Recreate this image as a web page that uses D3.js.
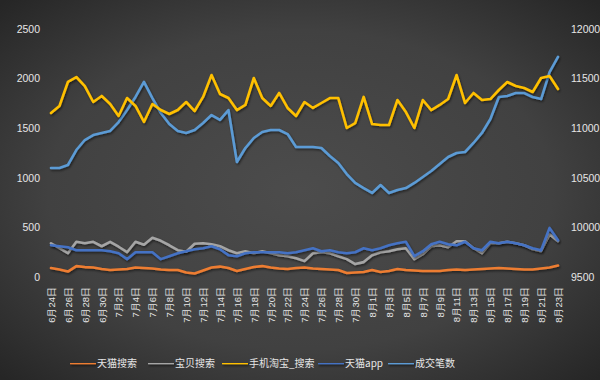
<!DOCTYPE html>
<html><head><meta charset="utf-8">
<script src="https://cdn.jsdelivr.net/npm/d3@7"></script>
<style>
html,body{margin:0;padding:0;background:#333;}
svg{display:block;font-family:"Noto Sans CJK SC","Noto Sans",sans-serif;}
</style></head>
<body>
<svg id="c" width="600" height="380"></svg>
<script>
// ---- data ----
const dates = (function(){ const a=[]; for(let d=24; d<=30; d++) a.push("6月"+d+"日"); for(let d=1; d<=31; d++) a.push("7月"+d+"日"); for(let d=1; d<=23; d++) a.push("8月"+d+"日"); return a; })();
const tmallSearch = [90,75,55,110,100,95,80,70,75,80,95,90,85,75,70,70,45,35,65,95,105,90,60,80,100,110,95,85,80,90,95,85,80,75,70,40,45,50,70,50,60,80,70,65,60,60,60,70,75,70,75,80,85,90,85,80,75,75,85,95,115];
const babySearch = [340,290,240,355,340,355,310,355,305,250,355,325,395,365,320,270,255,335,340,330,310,270,240,260,240,260,240,220,210,190,160,240,250,240,210,180,130,150,220,250,260,280,290,180,230,310,320,300,360,360,290,240,340,340,355,340,320,280,260,430,360];
const mobileSearch = [1653,1724,1966,2016,1925,1764,1825,1744,1623,1804,1724,1563,1744,1683,1643,1683,1764,1673,1815,2036,1845,1804,1683,1734,2006,1804,1724,1855,1704,1623,1764,1704,1754,1804,1804,1502,1552,1815,1542,1532,1532,1784,1663,1502,1784,1683,1734,1794,2036,1754,1855,1784,1794,1885,1966,1925,1905,1865,2006,2026,1895];
const tmallApp = [320,310,300,270,270,270,270,260,240,180,250,250,250,180,210,240,260,280,290,310,280,220,210,240,250,250,250,250,240,250,270,290,260,270,250,240,250,290,270,290,320,340,355,210,260,330,355,330,320,355,290,270,355,340,355,340,320,290,270,495,370];
const deals = [10599,10599,10629,10780,10881,10931,10952,10972,11062,11183,11315,11466,11304,11153,11042,10972,10952,10982,11052,11133,11083,11183,10659,10800,10901,10962,10982,10982,10941,10810,10810,10810,10800,10720,10649,10538,10448,10397,10347,10427,10347,10377,10397,10448,10508,10568,10639,10710,10750,10760,10851,10952,11093,11315,11325,11355,11355,11315,11294,11566,11718];
const leftTicks = [0,500,1000,1500,2000,2500];
const rightTicks = [9500,10000,10500,11000,11500,12000];
const seriesNames = ["天猫搜索","宝贝搜索","手机淘宝_搜索","天猫app","成交笔数"];
const seriesColors = ["#ED7D31","#A5A5A5","#FFC000","#4472C4","#5B9BD5"];

// ---- chart ----
const svg = d3.select("#c");
const W=600,H=380;
const defs = svg.append("defs");
const rg = defs.append("radialGradient").attr("id","bg").attr("cx","50%").attr("cy","50%").attr("r","70%");
rg.append("stop").attr("offset","0%").attr("stop-color","#4c4c4c");
rg.append("stop").attr("offset","60%").attr("stop-color","#414141");
rg.append("stop").attr("offset","100%").attr("stop-color","#262626");
const f = defs.append("filter").attr("id","sh").attr("filterUnits","userSpaceOnUse")
  .attr("x",0).attr("y",0).attr("width",W).attr("height",H);
f.append("feDropShadow").attr("dx",1).attr("dy",1.5).attr("stdDeviation",1.2).attr("flood-color","#000").attr("flood-opacity",0.55);

svg.append("rect").attr("width",W).attr("height",H).attr("fill","url(#bg)");

const x = d3.scalePoint().domain(dates).range([51,558]);
const yL = d3.scaleLinear().domain([0,2500]).range([277,29]);
const yR = d3.scaleLinear().domain([9500,12000]).range([277,29]);

// axes
const axL = svg.append("g").attr("transform","translate(40,0)")
  .call(d3.axisLeft(yL).tickValues(leftTicks).tickSize(0).tickPadding(0).tickFormat(d3.format("d")));
const axR = svg.append("g").attr("transform","translate(571,0)")
  .call(d3.axisRight(yR).tickValues(rightTicks).tickSize(0).tickPadding(0).tickFormat(d3.format("d")));
[axL,axR].forEach(a=>{ a.select(".domain").remove(); a.selectAll("text").attr("fill","#e6e6e6").style("font-size","10.5px").style("font-family","Liberation Sans, Arial, sans-serif"); });

const labelDates = dates.filter((d,i)=>i%2===0);
const axB = svg.append("g").attr("transform","translate(0,283)")
  .call(d3.axisBottom(x).tickValues(labelDates).tickSize(0).tickPadding(0));
axB.select(".domain").remove();
axB.selectAll("text").attr("fill","#e6e6e6").style("font-size","9.5px")
  .attr("text-anchor","end").attr("dy","0.35em").attr("dx","0")
  .attr("transform","translate(0,4) rotate(-90)").attr("x",0).attr("y",0);

const seriesData = [tmallSearch,babySearch,mobileSearch,tmallApp,deals];
const scales = [yL,yL,yL,yL,yR];
const order = [4,2,1,3,0];
order.forEach(k=>{
  const line = d3.line().x((d,i)=>x(dates[i])).y(d=>scales[k](d));
  svg.append("path").datum(seriesData[k]).attr("d",line)
    .attr("fill","none").attr("stroke",seriesColors[k]).attr("stroke-width",2.6)
    .attr("stroke-linejoin","round").attr("stroke-linecap","round").attr("filter","url(#sh)");
});

// legend
const legX = [70,148,222,318,388];
const lg = svg.append("g");
seriesNames.forEach((n,i)=>{
  const g = lg.append("g").attr("transform",`translate(${legX[i]},363)`);
  g.append("line").attr("x1",0).attr("x2",26).attr("y1",0).attr("y2",0)
    .attr("stroke",seriesColors[i]).attr("stroke-width",2.6).attr("filter","url(#sh)");
  g.append("text").attr("x",27).attr("y",0).attr("dy","0.35em").attr("fill","#e6e6e6")
    .style("font-size","10px").text(n);
});
</script>
</body></html>
